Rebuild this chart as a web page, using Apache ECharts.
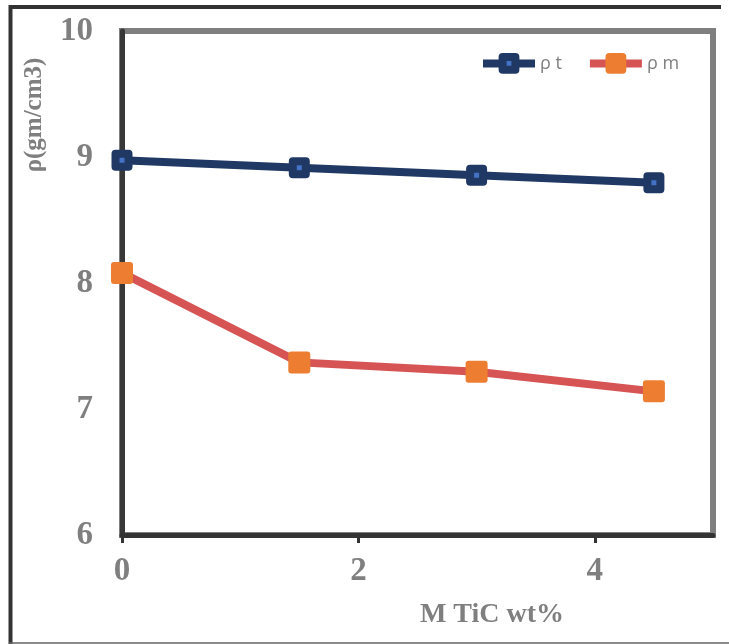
<!DOCTYPE html>
<html>
<head>
<meta charset="utf-8">
<script src="https://cdn.jsdelivr.net/npm/echarts@6/dist/echarts.min.js"></script>
<style>
html,body{margin:0;padding:0;background:#fff;}
#main{width:729px;height:644px;}
</style>
</head>
<body>
<div id="main"></div>
<script>
// Data
const xValues = [0, 1.5, 3, 4.5];
const rhoT = [8.975, 8.915, 8.855, 8.795];
const rhoM = [8.08, 7.37, 7.295, 7.14];
const seriesNames = ['ρ t', 'ρ m'];
const xTickLabels = [0, 2, 4];
const yTickLabels = [6, 7, 8, 9, 10];
const xTitle = 'M TiC wt%';
const yTitle = 'ρ(gm/cm3)';

const gray = '#7f7f7f';
const navy = '#203864';
const lightBlue = '#4472C4';
const red = '#D65454';
const orange = '#ED7D31';

const chart = echarts.init(document.getElementById('main'), null, {renderer: 'canvas'});

const pairs = (xs, ys) => xs.map((x, i) => [x, ys[i]]);

chart.setOption({
  animation: false,
  backgroundColor: '#fff',
  grid: {left: 122, top: 31, right: 16, bottom: 109, show: true, borderColor: gray, borderWidth: 6, backgroundColor: 'transparent'},
  xAxis: {
    type: 'value', min: 0, max: 5, interval: 2,
    splitLine: {show: false},
    axisLine: {lineStyle: {color: '#333', width: 5}},
    axisTick: {show: true, length: 8, lineStyle: {color: '#333', width: 3}, customValues: xTickLabels},
    axisLabel: {customValues: xTickLabels, margin: 20, color: gray, fontFamily: 'Liberation Serif', fontWeight: 'bold', fontSize: 33}
  },
  yAxis: {
    type: 'value', min: 6, max: 10, interval: 1,
    splitLine: {show: false},
    axisLine: {show: true, lineStyle: {color: '#383838', width: 5}},
    axisTick: {show: false},
    axisLabel: {customValues: yTickLabels, margin: 29, color: gray, fontFamily: 'Liberation Serif', fontWeight: 'bold', fontSize: 33}
  },
  legend: {
    left: 479, top: 53, padding: 0,
    itemWidth: 52, itemHeight: 16, itemGap: 24,
    textStyle: {color: gray, fontFamily: 'Open Sans', fontSize: 18},
    data: [
      {name: seriesNames[0], lineStyle: {color: navy, width: 8}, itemStyle: {color: lightBlue, borderColor: navy, borderWidth: 8, borderJoin: 'round'}},
      {name: seriesNames[1], lineStyle: {color: red, width: 8}, itemStyle: {color: orange, borderColor: orange, borderWidth: 8, borderJoin: 'round'}}
    ]
  },
  series: [
    {
      name: seriesNames[0], type: 'line', data: pairs(xValues, rhoT),
      symbol: 'rect', symbolSize: 13,
      lineStyle: {color: navy, width: 8},
      itemStyle: {color: lightBlue, borderColor: navy, borderWidth: 8, borderJoin: 'round'},
      z: 3
    },
    {
      name: seriesNames[1], type: 'line', data: pairs(xValues, rhoM),
      symbol: 'rect', symbolSize: 16,
      lineStyle: {color: red, width: 8},
      itemStyle: {color: orange, borderColor: orange, borderWidth: 6, borderJoin: 'round'},
      z: 3
    }
  ],
  graphic: [
    {type: 'line', shape: {x1: 10.5, y1: 5, x2: 10.5, y2: 644}, style: {stroke: '#333', lineWidth: 4}, silent: true},
    {type: 'line', shape: {x1: 9, y1: 7, x2: 721, y2: 7}, style: {stroke: '#333', lineWidth: 4}, silent: true},
    {type: 'line', shape: {x1: 9, y1: 643, x2: 729, y2: 643}, style: {stroke: '#666', lineWidth: 1.5}, silent: true},
    {type: 'text', x: 492, y: 615, style: {text: xTitle, fill: gray, font: 'bold 28px "Liberation Serif"', textAlign: 'center', textVerticalAlign: 'middle'}},
    {type: 'text', x: 35, y: 115, rotation: Math.PI / 2, style: {text: yTitle, fill: gray, font: 'bold 25px "Liberation Serif"', textAlign: 'center', textVerticalAlign: 'middle'}}
  ]
});
</script>
</body>
</html>
